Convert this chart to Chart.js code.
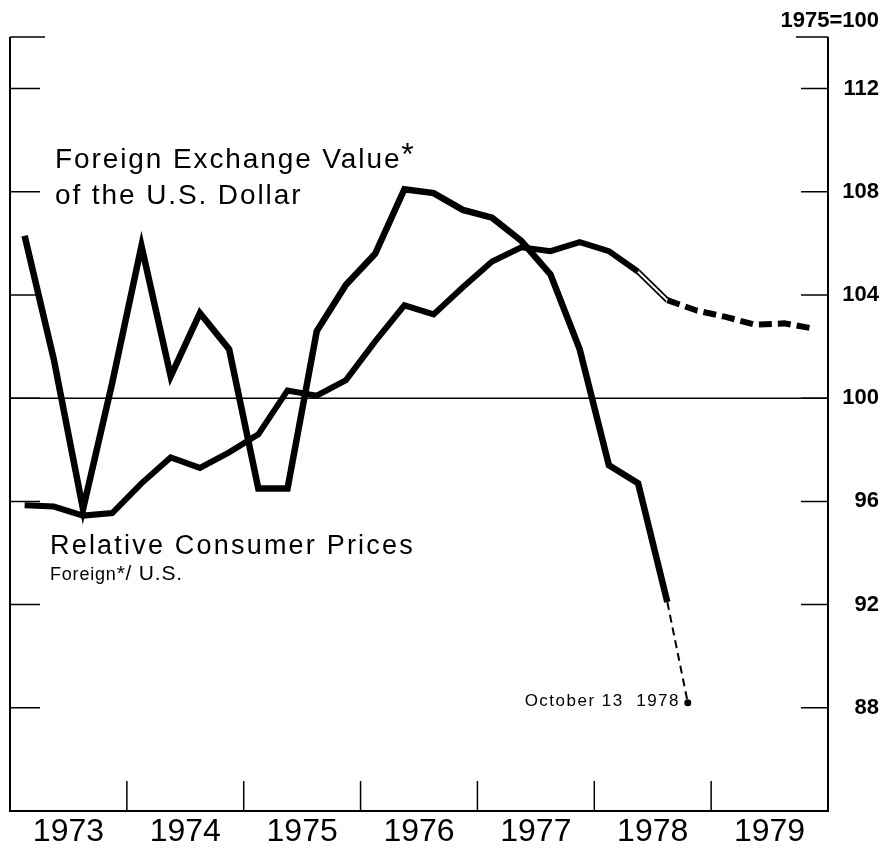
<!DOCTYPE html>
<html>
<head>
<meta charset="utf-8">
<script src="https://cdn.jsdelivr.net/npm/chart.js@4.4.0/dist/chart.umd.min.js"></script>
<style>
  html, body { margin: 0; padding: 0; background: #fff; }
  #wrap { width: 888px; height: 853px; }
</style>
</head>
<body>
<div id="wrap"><canvas id="myChart" width="888" height="853"></canvas></div>
<script>
// quarterly positions (mid-quarter), 1973Q1 .. 1978Q3
var quarters = [1973.125, 1973.375, 1973.625, 1973.875,
                1974.125, 1974.375, 1974.625, 1974.875,
                1975.125, 1975.375, 1975.625, 1975.875,
                1976.125, 1976.375, 1976.625, 1976.875,
                1977.125, 1977.375, 1977.625, 1977.875,
                1978.125, 1978.375, 1978.625];

// foreign exchange value of the dollar, 1975=100
var dollarValue = [106.3, 101.5, 95.7, 100.6,
                   105.9, 100.85, 103.3, 101.9,
                   96.5, 96.5, 102.6, 104.4,
                   105.6, 108.1, 107.95, 107.3,
                   107.0, 106.1, 104.8, 101.9,
                   97.4, 96.7, 92.1];
// last observation
var octX = [1978.625, 1978.8];
var octValue = [92.1, 88.2];

// relative consumer prices foreign / U.S.
var priceValue = [95.85, 95.8, 95.45, 95.55,
                  96.7, 97.7, 97.3, 97.9,
                  98.6, 100.3, 100.1, 100.7,
                  102.2, 103.6, 103.25, 104.3,
                  105.3, 105.85, 105.7, 106.05,
                  105.7, 104.9];
var estX = [1978.375, 1978.625];
var estValue = [104.9, 103.8];
var projX = [1978.625, 1978.875, 1979.125, 1979.375, 1979.625, 1979.875];
var projValue = [103.8, 103.4, 103.15, 102.85, 102.9, 102.7];

var years = ['1973', '1974', '1975', '1976', '1977', '1978', '1979'];
var yearBreaks = [1974, 1975, 1976, 1977, 1978, 1979];
var yTicks = [88, 92, 96, 100, 104, 108, 112];

function pts(xs, ys) {
  var out = [];
  for (var i = 0; i < ys.length; i++) out.push({x: xs[i], y: ys[i]});
  return out;
}

var FONT = '"Liberation Sans", Arial, Helvetica, sans-serif';

// frame, tick marks pointing inwards and the 100 line
var framePlugin = {
  id: 'frame',
  beforeDatasetsDraw: function(chart) {
    var ctx = chart.ctx, a = chart.chartArea;
    var xs = chart.scales.x, ys = chart.scales.y;
    ctx.save();
    ctx.strokeStyle = '#000';
    ctx.lineCap = 'butt';

    var y100 = ys.getPixelForValue(100);
    ctx.lineWidth = 1.5;
    ctx.beginPath();
    ctx.moveTo(a.left, y100);
    ctx.lineTo(a.right, y100);
    ctx.stroke();

    ctx.lineWidth = 2;
    ctx.beginPath();
    ctx.moveTo(a.left, a.top);
    ctx.lineTo(a.left, a.bottom);
    ctx.lineTo(a.right, a.bottom);
    ctx.lineTo(a.right, a.top);
    ctx.stroke();

    ctx.lineWidth = 1.5;
    ctx.beginPath();
    yTicks.forEach(function(v) {
      var py = ys.getPixelForValue(v);
      ctx.moveTo(a.left, py); ctx.lineTo(a.left + 30, py);
      ctx.moveTo(a.right, py); ctx.lineTo(a.right - 27, py);
    });
    ctx.moveTo(a.left, a.top); ctx.lineTo(a.left + 35, a.top);
    ctx.moveTo(a.right, a.top); ctx.lineTo(a.right - 32, a.top);
    yearBreaks.forEach(function(v) {
      var px = xs.getPixelForValue(v);
      ctx.moveTo(px, a.bottom); ctx.lineTo(px, a.bottom - 30);
    });
    ctx.stroke();
    ctx.restore();
  },
  afterDraw: function(chart) {
    var ctx = chart.ctx;
    ctx.save();
    ctx.fillStyle = '#000';
    ctx.textBaseline = 'alphabetic';

    ctx.textAlign = 'right';
    ctx.font = 'bold 22px ' + FONT;
    ctx.fillText('1975=100', 879, 27);

    ctx.textAlign = 'left';
    ctx.letterSpacing = '1.9px';
    ctx.font = '28px ' + FONT;
    ctx.fillText('Foreign Exchange Value', 55, 168);
    var w = ctx.measureText('Foreign Exchange Value').width;
    ctx.fillText('of the U.S. Dollar', 55, 204);
    ctx.letterSpacing = '0px';
    ctx.font = '32px ' + FONT;
    ctx.fillText('*', 55 + w, 165);

    ctx.letterSpacing = '2.2px';
    ctx.font = '27px ' + FONT;
    ctx.fillText('Relative Consumer Prices', 50, 554);
    ctx.letterSpacing = '0.8px';
    ctx.font = '18px ' + FONT;
    ctx.fillText('Foreign', 50, 580);
    var w2 = ctx.measureText('Foreign').width;
    ctx.font = '21px ' + FONT;
    ctx.fillText('*/ U.S.', 50 + w2, 580);

    ctx.textAlign = 'right';
    ctx.letterSpacing = '1.5px';
    ctx.font = '17px ' + FONT;
    ctx.fillText('October 13  1978', 680, 706);
    ctx.restore();
  }
};

var ctx = document.getElementById('myChart').getContext('2d');
var line = {borderColor: '#000', borderWidth: 6, pointRadius: 0, fill: false, tension: 0};

var myChart = new Chart(ctx, {
  type: 'line',
  data: {
    datasets: [
      Object.assign({}, line, {label: 'est inner', data: pts(estX, estValue), borderColor: '#fff', borderWidth: 2, order: 0}),
      Object.assign({}, line, {label: 'Foreign Exchange Value', data: pts(quarters, dollarValue), borderWidth: 6.5, order: 1}),
      Object.assign({}, line, {label: 'October 13 1978', data: pts(octX, octValue), borderWidth: 2,
        borderDash: [8, 5], pointRadius: [0, 3.5], pointBackgroundColor: '#000', pointBorderWidth: 0, order: 1}),
      Object.assign({}, line, {label: 'Relative Consumer Prices', data: pts(quarters, priceValue), order: 1}),
      Object.assign({}, line, {label: 'est outer', data: pts(estX, estValue), borderWidth: 5.5, order: 1}),
      Object.assign({}, line, {label: 'projection', data: pts(projX, projValue), borderDash: [13, 6], order: 1})
    ]
  },
  options: {
    responsive: false,
    animation: false,
    devicePixelRatio: 1,
    layout: {padding: {left: 10, right: 9, top: 37, bottom: 0}},
    plugins: {legend: {display: false}, tooltip: {enabled: false}},
    scales: {
      x: {
        type: 'linear',
        min: 1973,
        max: 1980,
        grid: {display: false, drawTicks: false},
        border: {display: false},
        afterBuildTicks: function(scale) {
          scale.ticks = years.map(function(y) { return {value: Number(y) + 0.5}; });
        },
        afterFit: function(scale) { scale.height = 42; },
        ticks: {
          autoSkip: false,
          maxRotation: 0,
          padding: 2,
          color: '#000',
          font: {family: FONT, size: 32},
          callback: function(v, i) { return years[i]; }
        }
      },
      y: {
        type: 'linear',
        position: 'right',
        min: 84,
        max: 114,
        grid: {display: false, drawTicks: false},
        border: {display: false},
        afterBuildTicks: function(scale) {
          scale.ticks = yTicks.map(function(v) { return {value: v}; });
        },
        afterFit: function(scale) { scale.width = 51; },
        ticks: {
          padding: 14,
          crossAlign: 'far',
          color: '#000',
          font: {family: FONT, size: 22, weight: 'bold'}
        }
      }
    }
  },
  plugins: [framePlugin]
});
</script>
</body>
</html>
